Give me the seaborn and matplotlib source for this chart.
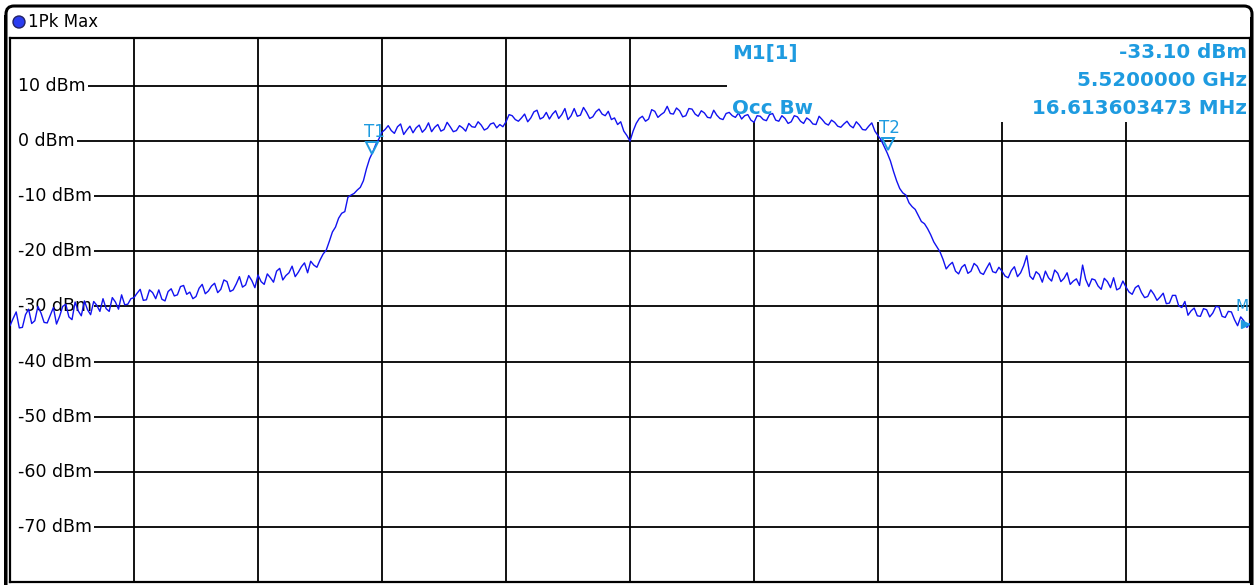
import numpy as np
import pandas as pd
import matplotlib
matplotlib.use("Agg")
import matplotlib.pyplot as plt
import matplotlib.patches as mpatches
import matplotlib.transforms as mtransforms
import seaborn as sns

# Dados do traço (offset de frequência em MHz em torno de 5.52 GHz)
# pontos nos múltiplos de 0.2 MHz
freq_par = np.linspace(-20, 20, 201)
nivel_par = [
    # -20 .. -16 MHz
    -33.5, -31.0, -33.8, -30.5, -32.6, -31.2, -33.0, -30.2, -31.8, -29.6,
    -32.4, -30.8, -29.0, -31.5, -29.8, -28.6, -30.9, -29.2, -27.9, -29.6,
    # -16 .. -12
    -28.4, -26.9, -28.8, -27.5, -27.0, -29.0, -26.8, -27.9, -26.2, -27.4,
    -28.2, -26.0, -27.2, -25.8, -26.9, -25.5, -27.0, -24.6, -26.1, -25.3,
    # -12 .. -8
    -24.3, -26.0, -24.8, -23.6, -25.2, -23.9, -24.6, -22.8, -23.9, -22.5,
    -21.6, -19.8, -16.5, -14.0, -12.8, -9.8, -8.9, -7.2, -3.2, -0.6,
    # -8 .. -4
    1.6, 2.8, 1.4, 3.1, 2.0, 1.5, 2.9, 2.2, 1.7, 3.0,
    2.1, 2.6, 1.9, 2.4, 3.2, 2.5, 2.9, 2.3, 3.3, 3.0,
    # -4 .. 0
    3.5, 4.6, 3.6, 4.9, 4.2, 5.6, 4.3, 4.0, 5.5, 4.8,
    3.9, 5.9, 4.7, 5.2, 4.4, 5.8, 4.6, 3.9, 3.0, 1.8,
    # 0 .. 4
    0.0, 3.2, 4.5, 4.0, 5.4, 4.8, 6.3, 4.9, 5.5, 4.6,
    5.8, 4.5, 5.1, 4.2, 4.7, 3.9, 5.2, 4.3, 4.0, 4.8,
    # 4 .. 8
    3.4, 4.5, 3.7, 5.0, 3.6, 4.1, 3.5, 4.4, 3.2, 3.8,
    3.0, 3.9, 2.9, 3.4, 2.5, 3.6, 2.4, 2.9, 2.0, 3.3,
    # 8 .. 12
    1.0, -1.0, -3.6, -7.2, -9.4, -11.2, -12.4, -14.6, -15.9, -18.3,
    -20.1, -23.2, -22.0, -24.1, -22.4, -23.6, -22.7, -24.2, -22.1, -23.9,
    # 12 .. 16
    -23.6, -24.8, -22.8, -23.9, -20.8, -25.1, -24.2, -23.6, -25.4, -24.0,
    -24.9, -26.0, -25.0, -22.5, -26.4, -25.2, -26.9, -25.5, -24.8, -26.7,
    # 16 .. 20
    -26.5, -27.8, -26.2, -28.4, -27.0, -28.9, -27.6, -29.4, -28.0, -30.2,
    -31.6, -30.3, -31.8, -30.6, -31.2, -30.1, -32.0, -31.0, -33.5, -32.6,
    -33.1,
]
# pontos intermediários (-19.9, -19.7, ..., 19.9 MHz)
freq_impar = np.linspace(-19.9, 19.9, 200)
nivel_impar = [
    -32.2, -33.9, -31.5, -33.1, -30.0, -32.9, -31.6, -33.2, -30.0, -31.9,
    -29.2, -31.7, -30.6, -29.1, -30.9, -30.4, -28.4, -30.5, -29.7, -28.6,
    -27.6, -28.9, -27.0, -28.6, -28.7, -27.3, -28.1, -26.4, -27.8, -28.6,
    -26.7, -27.7, -26.3, -27.5, -25.2, -27.3, -25.9, -26.5, -24.4, -26.6,
    -25.5, -24.1, -25.6, -23.1, -24.4, -22.7, -23.8, -22.1, -21.8, -22.9,
    -20.5, -18.2, -15.6, -13.1, -10.2, -9.5, -8.4, -5.0, -2.0, 0.4,
    2.1, 1.9, 2.6, 1.2, 2.7, 2.4, 1.6, 3.3, 2.5, 1.8,
    3.4, 1.7, 2.8, 1.8, 2.6, 3.5, 2.0, 3.1, 2.4, 2.6,
    4.8, 3.9, 4.2, 3.5, 5.3, 4.0, 5.2, 4.9, 4.1, 5.9,
    4.6, 4.5, 6.1, 4.1, 5.3, 4.9, 5.4, 4.2, 3.5, 1.0,
    1.8, 4.1, 3.6, 5.7, 4.3, 5.2, 5.0, 6.0, 4.4, 5.9,
    4.9, 5.5, 4.3, 5.6, 4.1, 5.0, 4.6, 5.1, 4.6, 3.8,
    4.6, 3.9, 4.8, 3.8, 4.6, 3.2, 4.6, 3.6, 4.2, 3.1,
    4.5, 3.2, 3.8, 2.7, 3.1, 2.8, 3.5, 2.1, 2.7, 1.8,
    0.2, -2.2, -5.5, -8.6, -9.8, -11.9, -13.5, -15.0, -17.0, -19.2,
    -21.5, -22.5, -23.6, -22.9, -24.0, -22.2, -23.9, -23.1, -23.7, -22.9,
    -24.5, -23.5, -24.6, -22.6, -24.5, -23.7, -25.6, -24.8, -23.4, -25.5,
    -23.9, -25.4, -26.2, -25.1, -25.0, -26.3, -24.9, -26.6, -27.0, -25.4,
    -27.4, -26.6, -27.5, -28.2, -27.8, -28.3, -29.5, -28.0, -29.9, -29.1,
    -30.8, -31.7, -30.4, -31.9, -30.0, -31.8, -30.9, -32.4, -31.9, -33.8,
]

# Marcadores T1 / T2 (largura de banda ocupada)
marcadores_t = ["T1", "T2"]
marcadores_f = [-8.307, 8.307]
marcadores_y = [-1.3, -0.6]

niveis_grade = [10, 0, -10, -20, -30, -40, -50, -60, -70]
freqs_grade = [-16, -12, -8, -4, 0, 4, 8, 12, 16]

info_esq = ["M1[1]", "", "Occ Bw"]
info_dir = ["-33.10 dBm", "5.5200000 GHz", "16.613603473 MHz"]

W, H = 1257, 585
AZUL_TXT = "#1e9be0"
AZUL_TRACO = "#1212f0"

sns.set_style("white")
plt.rcParams["font.family"] = ["DejaVu Sans"]

fig = plt.figure(figsize=(W / 100, H / 100), dpi=100)
fig.patch.set_facecolor("white")
ax = fig.add_axes([10 / W, (H - 582) / H, 1240 / W, 544 / H])
ax.set_xlim(-20, 20)
ax.set_ylim(-80, 18.7)
ax.set_xticks([])
ax.set_yticks([])
for s in ax.spines.values():
    s.set_color("black")
    s.set_linewidth(1.6)

# Grade vertical
for f in freqs_grade:
    ax.axvline(f, color="black", lw=1.3, zorder=1)

# Rótulos do eixo Y (texto sobre a grade)
fig.canvas.draw()
renderer = fig.canvas.get_renderer()
for nv in niveis_grade:
    t = ax.text(-19.74, nv, f"{nv} dBm", ha="left", va="center",
                fontsize=12.5, color="black", zorder=2)
    bb = t.get_window_extent(renderer)
    x0 = ax.transData.inverted().transform((bb.x1 + 2, 0))[0]
    ax.hlines(nv, x0, 20, color="black", lw=1.3, zorder=1)

# Caixa branca do bloco de informações do marcador
ax.add_patch(mpatches.Rectangle((3.145, 3.47), 20 - 3.145, 18.7 - 3.47,
                                facecolor="white", edgecolor="none", zorder=1.5))

# Traço (intercala os pontos pares e intermediários)
df = pd.concat([
    pd.DataFrame({"freq": freq_par, "nivel": nivel_par}),
    pd.DataFrame({"freq": freq_impar, "nivel": nivel_impar}),
]).sort_values("freq")
sns.lineplot(data=df, x="freq", y="nivel", ax=ax, color=AZUL_TRACO,
             lw=1.0, sort=False, estimator=None, zorder=3)
ax.set_xlabel("")
ax.set_ylabel("")

# Marcadores T1/T2
for nome, f, y in zip(marcadores_t, marcadores_f, marcadores_y):
    ax.plot(f, y, marker="v", ms=8, mfc="none", mec=AZUL_TXT, mew=1.4, zorder=4)
    ax.text(f + 0.05, y + 1.3, nome, ha="center", va="bottom",
            fontsize=12, color=AZUL_TXT, zorder=4)

# Indicador de marcador fora da tela (M1) na borda direita
ax.text(19.95, -30.0, "M", ha="right", va="center", fontsize=11,
        color=AZUL_TXT, zorder=4)
ax.plot(19.85, -33.1, marker=">", ms=6, color=AZUL_TXT, zorder=4, clip_on=False)

# Informações do marcador
linhas_y = [53, 80, 108]
for txt, yy in zip(info_esq, linhas_y):
    if txt:
        fig.text(732 / W, 1 - yy / H, txt, ha="left", va="center",
                 fontsize=14.3, fontweight="bold", color=AZUL_TXT, zorder=5)
for txt, yy in zip(info_dir, linhas_y):
    fig.text(1247 / W, 1 - yy / H, txt, ha="right", va="center",
             fontsize=14.3, fontweight="bold", color=AZUL_TXT, zorder=5)

# Moldura externa e barra de título
ident = mtransforms.IdentityTransform()
moldura = mpatches.FancyBboxPatch((6, -20), 1246, H - 6 + 20,
                                  boxstyle="round,pad=0,rounding_size=8",
                                  facecolor="none", edgecolor="black", lw=2.2,
                                  transform=ident, zorder=10)
fig.patches.append(moldura)
fig.patches.append(mpatches.Rectangle((4, -5), 3, H - 10, facecolor="black",
                                      edgecolor="none", transform=ident, zorder=10))
fig.patches.append(mpatches.Rectangle((1250, -5), 3, H - 12, facecolor="black",
                                      edgecolor="none", transform=ident, zorder=10))
fig.patches.append(mpatches.Circle((19, H - 22), 6, facecolor="#2a3cf0",
                                   edgecolor="#222266", lw=1, transform=ident, zorder=10))
fig.text(28 / W, 1 - 22 / H, "1Pk Max", ha="left", va="center",
         fontsize=12, color="black")

fig.savefig("out.png", dpi=100)
